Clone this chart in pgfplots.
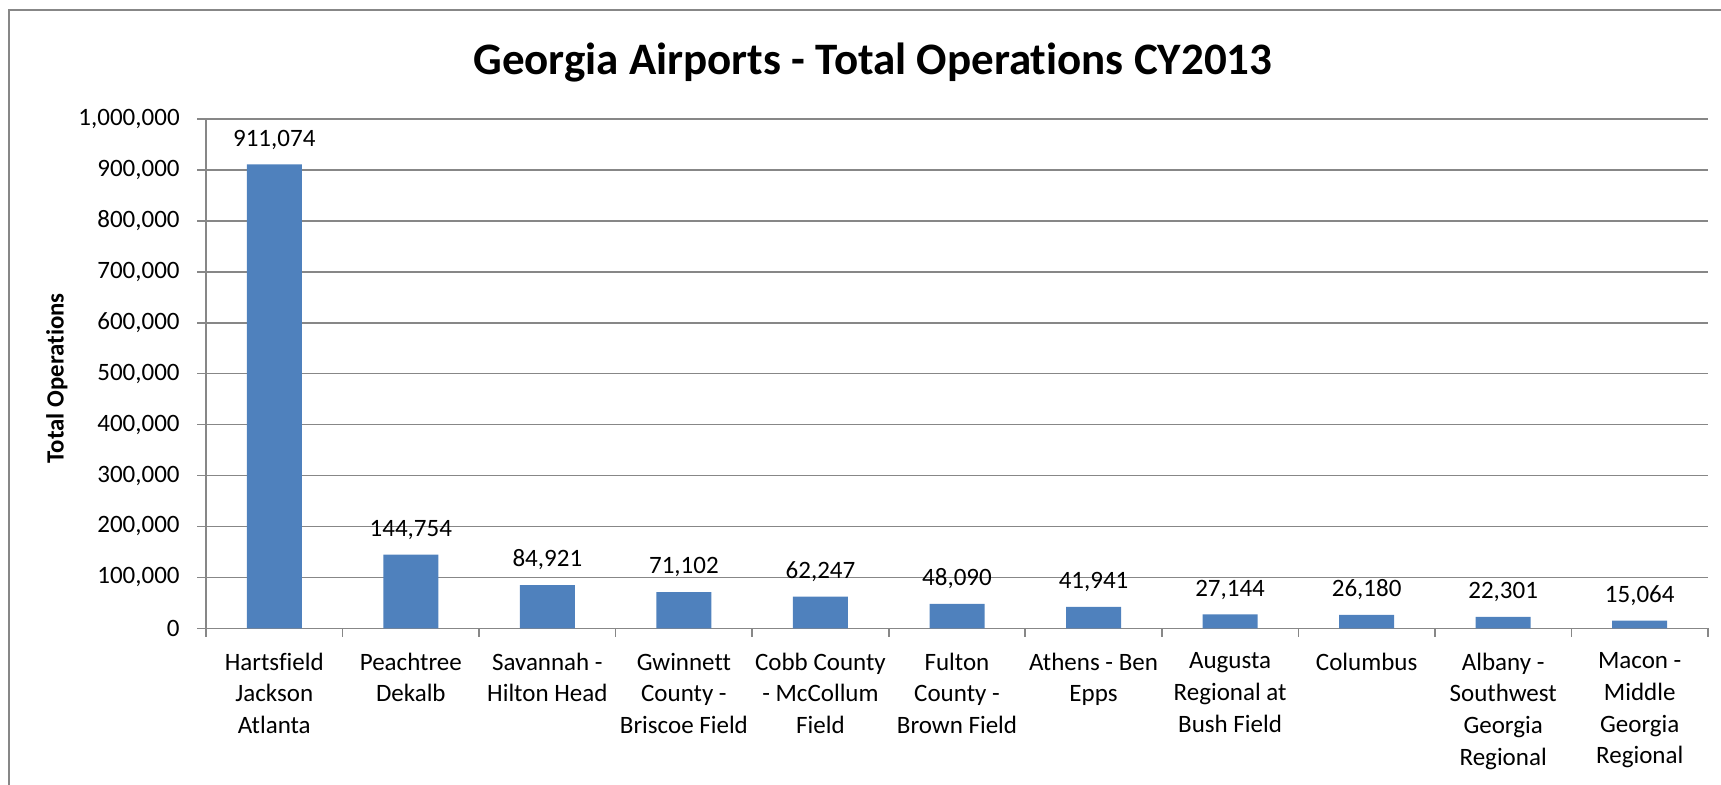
\documentclass[border=0pt]{standalone}
\usepackage{pgfplots}
\pgfplotsset{compat=1.18}
\usepackage{fontspec}
\setmainfont{Carlito}[Ligatures=NoCommon]
\definecolor{barblue}{HTML}{4F81BD}
\definecolor{axgray}{HTML}{878787}

\begin{document}
\begin{tikzpicture}
% 1 px of the reference = 0.5pt, axis origin at px (206,628)
\useasboundingbox (-103pt,-77.85pt) rectangle (757.5pt,314.15pt);
\draw[axgray, line width=1pt] (-98.25pt,-100pt) rectangle (800pt,309.4pt);
\begin{axis}[
  at={(0,0)}, anchor=south west,
  scale only axis, width=751pt, height=254.65pt,
  ybar, bar width=27.5pt,
  xmin=-0.5, xmax=10.5,
  ymin=0, ymax=1000000,
  axis x line*=bottom, axis y line*=left,
  x axis line style={-}, y axis line style={-},
  axis line style={axgray, line width=0.8pt},
  tick style={axgray, line width=0.8pt},
  tick align=outside, major tick length=4.25pt,
  xtick={-0.5,0.5,...,10.5},
  x tick label as interval=true,
  xticklabels={{Hartsfield\\Jackson\\Atlanta},{Peachtree\\Dekalb},{Savannah -\\Hilton Head},
    {Gwinnett\\County -\\Briscoe Field},{Cobb County\\- McCollum\\Field},{Fulton\\County -\\Brown Field},
    {Athens - Ben\\Epps},{Augusta\\Regional at\\Bush Field},{Columbus},{Albany -\\Southwest\\Georgia\\Regional},
    {Macon -\\Middle\\Georgia\\Regional}},
  xticklabel style={align=center, font=\fontsize{12.5}{15.8}\selectfont, yshift=-4.5pt},
  ytick={0,100000,...,1000000},
  scaled y ticks=false,
  yticklabel style={font=\fontsize{12.5}{15}\selectfont, xshift=-5.4pt,
    /pgf/number format/.cd, fixed, precision=0, 1000 sep={,}, assume math mode=true},
  ymajorgrids, grid style={axgray, line width=0.8pt},
  nodes near coords={\pgfmathprintnumber[fixed,precision=0,1000 sep={,},assume math mode=true]{\pgfplotspointmeta}},
  nodes near coords style={font=\fontsize{12.5}{15}\selectfont, text=black, yshift=4pt},
]
\addplot[fill=barblue, draw=none] coordinates {
  (0,911074) (1,144754) (2,84921) (3,71102) (4,62247) (5,48090)
  (6,41941) (7,27144) (8,26180) (9,22301) (10,15064)
};
\end{axis}
\node[font=\fontsize{22.5}{27}\selectfont\bfseries, anchor=base] at (333.45pt,277.15pt) {Georgia Airports - Total Operations CY2013};
\node[font=\fontsize{12.4}{15}\selectfont\bfseries, rotate=90] at (-74.5pt,125pt) {Total Operations};
\end{tikzpicture}
\end{document}
